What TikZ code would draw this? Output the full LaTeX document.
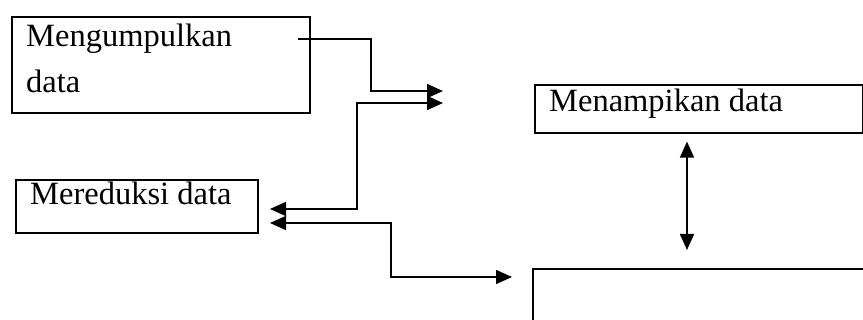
\documentclass[tikz,border=0pt]{standalone}
\usepackage{fontspec}
\setmainfont{Liberation Serif}
\usetikzlibrary{arrows.meta}
\tikzset{
  box/.style={draw, line width=1.6pt, rectangle, inner sep=0pt, anchor=north west},
  lbl/.style={anchor=base west, inner sep=0pt, font=\fontsize{32.5}{32.5}\selectfont},
  tip/.style={Triangle[length=16pt,width=14pt]},
  conn/.style={line width=1.6pt, -{Triangle[length=16pt,width=14pt]}},
  conn2/.style={line width=1.6pt, {Triangle[length=16pt,width=14pt]}-{Triangle[length=16pt,width=14pt]}}
}
\begin{document}
\begin{tikzpicture}[x=1pt,y=-1pt]
\useasboundingbox (0,0) rectangle (863,320);
\clip (0,0) rectangle (863,320);
% boxes
\node[box, minimum width=298pt, minimum height=96pt] (b1) at (11,16) {};
\node[box, minimum width=242pt, minimum height=53pt] (b2) at (15,179) {};
\node[box, minimum width=328pt, minimum height=48pt] (b3) at (534,84) {};
\node[box, minimum width=340pt, minimum height=80pt] (b4) at (532,268) {};
% labels
\node[lbl] (t1a) at (26,47) {Mengumpulkan};
\node[lbl] (t1b) at (26,93) {data};
\node[lbl] (t2) at (30,205) {Mereduksi data};
\node[lbl] (t3) at (549,112) {Menampikan data};
% connector end points
\coordinate (s1) at (298,39);
\coordinate (e1) at (443,91);
\coordinate (s2) at (270,209);
\coordinate (e2) at (443,103);
\coordinate (s3) at (270,223);
\coordinate (e3) at (512,277);
\coordinate (vx) at (687,0);
% connectors
\draw[conn] (s1) -- (371,39) -- (371,91) -- (e1);
\draw[conn2] (s2) -- (357,209) -- (357,103) -- (e2);
\draw[conn2] (s3) -- (391,223) -- (391,277) -- (e3);
\draw[conn2] ([yshift=-8pt]b3.south -| vx) -- ([yshift=18pt]b4.north -| vx);
\end{tikzpicture}
\end{document}
